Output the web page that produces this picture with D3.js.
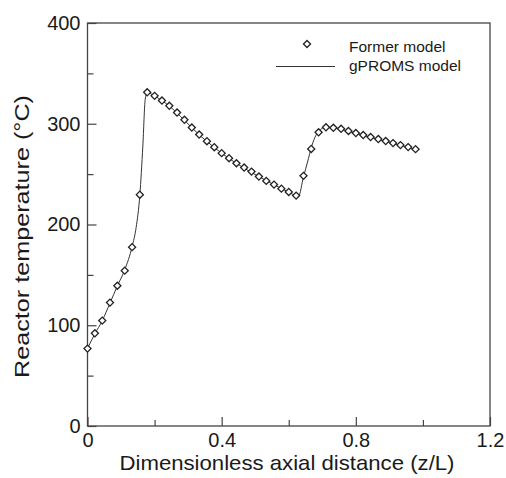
<!DOCTYPE html>
<html>
<head>
<meta charset="utf-8">
<script src="https://cdn.jsdelivr.net/npm/d3@7"></script>
<style>
body { margin: 0; background: #fff; }
svg text { font-family: "Liberation Sans", Arial, sans-serif; fill: #1a1a1a; }
</style>
</head>
<body>
<script>
// former model (diamonds)
let zFormer = [0, 0.022, 0.044, 0.067, 0.089, 0.111, 0.133, 0.156, 0.178, 0.2,
	0.222, 0.244, 0.267, 0.289, 0.311, 0.333, 0.356, 0.378, 0.4, 0.422,
	0.444, 0.467, 0.489, 0.511, 0.533, 0.556, 0.578, 0.6, 0.622, 0.644,
	0.667, 0.689, 0.711, 0.733, 0.756, 0.778, 0.8, 0.822, 0.844, 0.867,
	0.889, 0.911, 0.933, 0.956, 0.978];
let tFormer = [76.8, 92, 104.6, 122.5, 139.2, 154.2, 177.5, 229.6, 331.2, 327.7,
	323, 317.8, 311.1, 303.9, 296.2, 289.3, 282.7, 276.7, 270.8, 265.8,
	260.8, 256.5, 252.5, 247.6, 243.3, 239.6, 235.6, 232.3, 228.7, 248.3,
	275, 291.5, 296.5, 296, 295, 292.8, 290.8, 288.8, 286.8, 284.8,
	282.8, 280.8, 278.8, 276.8, 274.8];

// gPROMS model (solid line)
let zGproms = [0, 0.022, 0.044, 0.067, 0.089, 0.111, 0.133, 0.145, 0.156, 0.165,
	0.172, 0.178, 0.2, 0.244, 0.289, 0.333, 0.378, 0.422, 0.467, 0.511,
	0.556, 0.6, 0.622, 0.629, 0.644, 0.656, 0.667, 0.678, 0.689, 0.7,
	0.711, 0.733, 0.778, 0.822, 0.867, 0.911, 0.956, 0.978];
let tGproms = [77, 91.5, 104.5, 122, 139, 155, 178, 197, 229, 278,
	324, 331, 327.5, 317.5, 303.5, 289, 276.5, 265.5, 256, 247.5,
	239.5, 232, 228.5, 228, 247.5, 262, 276, 286.5, 292.5, 295.5,
	296.5, 296, 292.5, 288.5, 284.5, 280.5, 276.5, 274.5];

let xTicks = [0, 0.4, 0.8, 1.2];
let xMinor = [0.2, 0.6, 1.0];
let yTicks = [0, 100, 200, 300, 400];
let yMinor = [50, 150, 250, 350];
let legendNames = ["Former model", "gPROMS model"];

let pLeft = 87.5, pRight = 490, pTop = 23, pBottom = 426;

let x = d3.scaleLinear().domain([0, 1.2]).range([pLeft, pRight]);
let y = d3.scaleLinear().domain([0, 400]).range([pBottom, pTop]);

let svg = d3.select("body").append("svg")
	.attr("width", 506)
	.attr("height", 478);

// axes with inward ticks
let gx = svg.append("g").attr("transform", "translate(0," + pBottom + ")")
	.call(d3.axisBottom(x).tickValues(xTicks).tickSize(-9).tickPadding(7)
		.tickFormat(d3.format("")));
let gxm = svg.append("g").attr("transform", "translate(0," + pBottom + ")")
	.call(d3.axisBottom(x).tickValues(xMinor).tickSize(-6).tickFormat(""));
let gy = svg.append("g").attr("transform", "translate(" + pLeft + ",0)")
	.call(d3.axisLeft(y).tickValues(yTicks).tickSize(-9).tickPadding(7));
let gym = svg.append("g").attr("transform", "translate(" + pLeft + ",0)")
	.call(d3.axisLeft(y).tickValues(yMinor).tickSize(-6).tickFormat(""));

[gx, gxm, gy, gym].forEach(function(g){
	g.select(".domain").remove();
	g.selectAll("line").attr("stroke", "#444").attr("stroke-width", 1.2);
	g.selectAll("text").attr("font-size", 20).attr("fill", "#1a1a1a")
		.attr("font-family", "Liberation Sans, Arial, sans-serif");
});

// frame
svg.append("rect")
	.attr("x", pLeft).attr("y", pTop)
	.attr("width", pRight - pLeft).attr("height", pBottom - pTop)
	.attr("fill", "none")
	.attr("stroke", "#444")
	.attr("stroke-width", 1.3);

// axis titles
svg.append("text")
	.attr("x", 287)
	.attr("y", 470)
	.attr("text-anchor", "middle")
	.attr("font-size", 21)
	.attr("textLength", 335)
	.attr("lengthAdjust", "spacingAndGlyphs")
	.text("Dimensionless axial distance (z/L)");

svg.append("text")
	.attr("transform", "translate(29,236.5) rotate(-90)")
	.attr("text-anchor", "middle")
	.attr("font-size", 21)
	.attr("textLength", 283)
	.attr("lengthAdjust", "spacingAndGlyphs")
	.text("Reactor temperature (°C)");

// gPROMS line
let gLine = d3.line()
	.x(function(d, i) { return x(zGproms[i]); })
	.y(function(d) { return y(d); })
	.curve(d3.curveMonotoneX);

svg.append("path")
	.datum(tGproms)
	.attr("d", gLine)
	.attr("fill", "none")
	.attr("stroke", "#333")
	.attr("stroke-width", 1);

// former model diamonds
let diamond = d3.symbol().type(d3.symbolSquare).size(25);

svg.selectAll(".pt")
	.data(tFormer)
	.enter().append("path")
	.attr("class", "pt")
	.attr("d", diamond)
	.attr("transform", function(d, i) {
		return "translate(" + x(zFormer[i]) + "," + y(d) + ") rotate(45)";
	})
	.attr("fill", "#fff")
	.attr("stroke", "#222")
	.attr("stroke-width", 1.3);

// legend
svg.append("path")
	.attr("d", diamond)
	.attr("transform", "translate(307,44) rotate(45)")
	.attr("fill", "#fff")
	.attr("stroke", "#222")
	.attr("stroke-width", 1.3);
svg.append("line")
	.attr("x1", 276).attr("x2", 335)
	.attr("y1", 66.5).attr("y2", 66.5)
	.attr("stroke", "#333")
	.attr("stroke-width", 1);

svg.selectAll(".leg")
	.data(legendNames)
	.enter().append("text")
	.attr("class", "leg")
	.attr("x", 349)
	.attr("y", function(d, i) { return 51.5 + i * 19.5; })
	.attr("font-size", 15.5)
	.text(function(d) { return d; });
</script>
</body>
</html>
